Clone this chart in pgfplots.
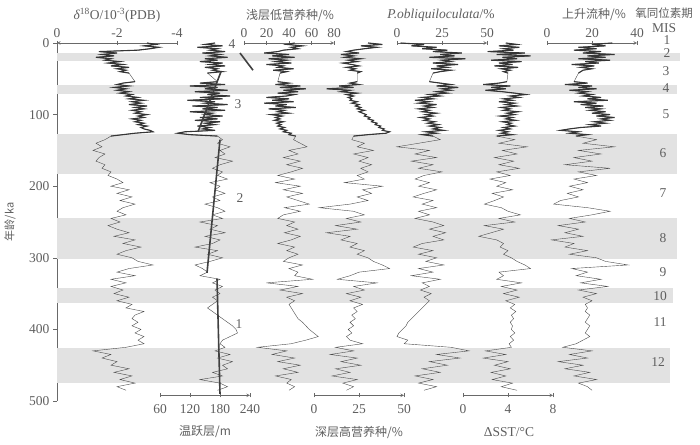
\documentclass[border=0pt]{standalone}
\usepackage{pgfplots}
\pgfplotsset{compat=1.18}
\usepackage{pgfplotstable}
\usepackage{fontspec}
\setmainfont{Liberation Serif}
\newfontfamily\cjk{Noto Sans CJK SC}
\definecolor{ln}{RGB}{75,75,75}
\definecolor{ax}{RGB}{105,105,105}
\definecolor{txt}{RGB}{95,95,95}
\definecolor{band}{RGB}{226,226,226}

\pgfplotstableread{
age D T S P O C U
0 -3.0 170 45 30 2 3.8 29
2 -3.3 150 38 38 15 4.8 20
4 -2.9 185 52 26 8 3.2 26
6 -3.4 135 42 35 22 5.0 14
8 -3.1 175 48 28 14 3.6 22
10 -2.7 160 35 22 28 4.5 12
12 -1.4 190 30 18 20 2.2 24
14 -2.0 145 18 25 36 5.5 16
16 -1.5 180 40 15 24 3.0 30
18 -1.9 160 25 22 32 6.0 18
20 -1.3 195 45 17 18 3.5 26
22 -1.8 150 22 26 38 4.8 14
24 -1.6 175 38 19 25 2.5 28
26 -2.1 140 28 24 30 5.2 17
28 -1.7 185 42 16 20 3.2 23
30 -2.2 160 20 21 34 4.4 11
32 -1.8 190 35 25 22 2.8 21
34 -2.4 150 30 18 28 4.9 15
36 -2.0 175 44 23 19 3.4 20
38 -2.3 165 26 20 30 4.2 16
40 -2.1 185 38 26 24 3.6 15
42 -2.4 155 32 24 20 4.0 14
54 -2.6 175 30 24 18 3.9 12
56 -2.2 140 40 20 24 3.2 18
58 -2.0 190 28 25 30 1.8 8
60 -2.4 120 50 14 22 4.2 20
62 -1.9 175 32 22 34 2.5 14
64 -2.3 150 55 7 25 3.8 22
66 -2.0 195 35 20 30 2.0 10
68 -2.4 130 48 15 22 3.5 18
70 -2.1 180 30 24 28 4.6 14
72 -2.5 155 45 18 18 5.6 20
74 -2.3 200 38 22 24 4.2 16
76 -2.7 140 20 19 14 5.0 24
78 -2.4 185 40 21 20 3.6 18
80 -2.9 115 25 20 10 4.4 27
82 -2.5 170 44 24 18 3.2 12
84 -2.8 150 18 21 12 4.6 22
86 -2.4 195 38 25 22 3.8 15
88 -3.0 125 28 23 15 4.8 25
90 -2.6 175 46 26 20 3.4 17
92 -2.9 145 22 24 12 4.2 24
94 -2.5 190 36 28 18 3.6 19
96 -2.8 120 30 25 14 4.9 26
98 -2.6 165 40 27 22 3.9 20
100 -3.0 150 24 29 16 4.6 28
102 -2.7 185 34 28 20 3.3 22
104 -2.9 140 28 31 13 4.4 30
106 -2.5 175 32 30 18 3.8 24
108 -2.8 130 27 33 15 4.7 28
110 -2.6 180 35 32 21 3.5 21
112 -2.9 150 29 35 17 4.3 26
114 -2.7 170 33 34 23 3.9 19
116 -3.0 135 30 37 18 4.6 24
118 -2.8 160 36 36 24 3.6 15
120 -2.9 145 32 39 20 4.2 10
122 -3.1 170 38 38 26 3.2 6
124 -3.2 110 35 42 16 4.0 14
126 -2.6 95 42 40 22 3.4 10
128 -2.2 120 40 30 14 4.4 18
130 -1.8 175 46 22 20 3.0 13
135 -1.6 185 44 21 24 4.6 22
140 -1.3 175 50 28 12 3.2 16
145 -1.5 200 56 24 0 5.7 30
150 -1.2 180 40 33 18 3.5 14
155 -1.6 190 48 22 10 4.8 24
160 -1.4 170 35 30 22 2.8 12
165 -1.3 205 50 25 8 4.5 20
170 -1.6 180 38 32 20 3.2 8
175 -1.5 165 52 26 12 5.0 28
180 -1.8 185 42 30 25 3.0 14
185 -1.7 175 30 24 15 4.2 22
190 -2.0 195 45 28 10 2.4 12
195 -2.2 160 28 17 18 3.8 18
200 -1.8 180 50 38 12 3.0 10
205 -2.4 170 35 27 22 4.4 16
210 -2.0 190 52 32 15 2.6 9
215 -2.5 165 38 24 9 3.6 14
220 -2.1 180 48 30 20 2.8 6
225 -2.6 150 58 20 14 1.9 3
230 -2.2 175 36 3 22 3.4 18
235 -2.0 190 50 22 12 4.0 28
240 -2.3 165 35 28 18 5.1 20
245 -1.8 185 30 18 10 3.2 10
250 -2.1 140 45 26 20 4.6 17
255 -1.7 175 38 12 26 1.9 5
260 -2.0 160 48 24 18 3.6 14
265 -2.4 190 36 7 27 2.5 8
270 -1.9 150 50 20 20 1.4 16
275 -2.6 180 42 15 26 3.0 2
280 -2.2 165 30 24 14 3.6 12
285 -2.8 130 45 20 9 3.3 8
290 -2.3 175 38 28 20 4.0 18
295 -2.0 155 48 24 12 3.6 10
300 -2.5 185 40 30 22 4.3 22
305 -2.7 160 35 33 16 4.8 26
310 -3.2 130 52 38 26 5.5 36
315 -2.4 145 40 42 12 6.0 11
320 -2.0 155 48 25 20 3.2 18
325 -2.6 140 45 20 8 3.6 13
330 -1.8 180 61 13 24 3.0 24
335 -2.3 165 20 35 14 5.2 15
340 -1.8 185 48 22 18 3.4 27
345 -2.2 170 32 28 13 4.8 14
350 -1.9 180 52 18 19 3.6 22
355 -2.4 165 38 26 15 5.0 16
360 -2.0 175 45 20 18 3.8 20
365 -2.5 165 40 27 16 4.6 17
370 -2.3 155 42 22 14 4.2 18
375 -2.9 165 44 24 12 4.7 17
380 -2.6 175 46 21 10 4.3 19
385 -2.5 185 48 23 8 4.5 18
390 -2.7 195 52 20 6 4.2 17
395 -2.5 205 55 22 5 4.4 19
400 -2.8 212 58 19 3 4.3 18
405 -2.6 215 62 21 1 4.6 17
410 -2.9 200 66 18 0 4.2 19
415 -2.7 185 55 20 6 4.5 16
420 -2.9 180 42 27 4 4.1 13
425 -2.3 190 12 12 30 4.3 7
430 -1.2 170 38 22 40 2.0 20
435 -1.8 200 25 9 22 3.8 10
440 -1.5 175 45 24 35 1.8 18
445 -2.0 205 30 15 18 4.0 5
450 -1.8 185 50 26 28 2.8 16
455 -2.4 195 35 12 14 4.2 8
460 -1.9 165 48 20 24 2.5 19
465 -2.5 185 28 10 10 3.8 12
470 -2.1 140 42 24 20 2.6 22
475 -2.6 180 38 16 12 4.4 14
480 -2.0 195 45 22 22 3.4 18
485 -2.3 175 40 18 15 4.8 20
}\data

\pgfplotsset{
  panel/.style={scale only axis, ymin=0, ymax=500, y dir=reverse,
    axis y line=none, clip=false, enlargelimits=false,
    axis line style={-, ax, line width=0.6pt},
    tick style={ax, line width=0.6pt},
    tick align=inside, major tick length=4pt, minor tick num=0,
    ticklabel style={font=\fontsize{13.5}{15}\selectfont, text=txt},
    /pgf/number format/assume math mode=true,
    cycle list={{ln, line width=0.6pt, mark=none}}},
  denseA/.style={ln!70!black, line width=1.1pt, mark=none, restrict y to domain=-1:43},
  denseB/.style={ln!70!black, line width=1.1pt, mark=none, restrict y to domain=53:131},
  toppanel/.style={panel, height=358pt, anchor=north west, axis x line=top},
  botpanel/.style={panel, height=352.3pt, ymax=492, anchor=north west, axis x line=bottom,
    xticklabel style={yshift=-4pt}},
}

\begin{document}
\begin{tikzpicture}
\path[use as bounding box] (0pt,0pt) rectangle (700pt,444pt);

% main axis: bands and age scale
\begin{axis}[scale only axis, width=623pt, height=358pt, at={(57pt,43pt)}, anchor=south west,
  xmin=57, xmax=680, ymin=0, ymax=500, y dir=reverse, enlargelimits=false, clip=false,
  axis x line=none, axis y line=left, axis line style={-, ax, line width=0.6pt},
  tick style={ax, line width=0.6pt}, ytick={0,100,...,500}, tick align=outside,
  major tick length=4pt,
  yticklabel style={font=\fontsize{13.5}{15}\selectfont, text=txt},
  /pgf/number format/assume math mode=true]
\addplot[fill=band, draw=none] coordinates {(57,14) (680,14) (680,25) (57,25)} --cycle;
\addplot[fill=band, draw=none] coordinates {(57,59) (677,59) (677,71) (57,71)} --cycle;
\addplot[fill=band, draw=none] coordinates {(57,127) (677,127) (677,183) (57,183)} --cycle;
\addplot[fill=band, draw=none] coordinates {(57,244) (677,244) (677,301) (57,301)} --cycle;
\addplot[fill=band, draw=none] coordinates {(57,342) (673,342) (673,363) (57,363)} --cycle;
\addplot[fill=band, draw=none] coordinates {(57,426) (670,426) (670,475) (57,475)} --cycle;
\end{axis}

% delta 18O
\begin{axis}[toppanel, at={(57pt,401pt)}, width=120pt, xmin=-4, xmax=0, x dir=reverse,
  xtick={0,-2,-4}, xticklabels={0,-2,-4}]
\addplot table[x=D, y=age] {\data};
\addplot[denseA] table[x=D, y=age] {\data};
\addplot[denseB] table[x=D, y=age] {\data};
\end{axis}

% thermocline
\begin{axis}[botpanel, at={(160pt,401pt)}, width=90pt, xmin=60, xmax=240, xtick={60,120,180,240}]
\addplot table[x=T, y=age] {\data};
\addplot[denseA] table[x=T, y=age] {\data};
\addplot[denseB] table[x=T, y=age] {\data};
\addplot[line width=1.6pt, color=black!75, mark=none] coordinates {(220,14) (246,38)};
\addplot[line width=1.6pt, color=black!75, mark=none] coordinates {(136,124) (182,40)};
\addplot[line width=1.6pt, color=black!75, mark=none] coordinates {(180,135) (154,321)};
\addplot[line width=1.6pt, color=black!75, mark=none] coordinates {(174,329) (180,490)};
\end{axis}

% shallow oligotrophic
\begin{axis}[toppanel, at={(244pt,401pt)}, width=90pt, xmin=0, xmax=80, xtick={0,20,40,60,80}]
\addplot table[x=S, y=age] {\data};
\addplot[denseA] table[x=S, y=age] {\data};
\addplot[denseB] table[x=S, y=age] {\data};
\end{axis}

% deep eutrophic
\begin{axis}[botpanel, at={(314pt,401pt)}, width=90pt, xmin=0, xmax=50, xtick={0,25,50}]
\addplot table[x=P, y=age] {\data};
\addplot[denseA] table[x=P, y=age] {\data};
\addplot[denseB] table[x=P, y=age] {\data};
\end{axis}

% P. obliquiloculata
\begin{axis}[toppanel, at={(397pt,401pt)}, width=90pt, xmin=0, xmax=50, xtick={0,25,50}]
\addplot table[x=O, y=age] {\data};
\addplot[denseA] table[x=O, y=age] {\data};
\addplot[denseB] table[x=O, y=age] {\data};
\end{axis}

% Delta SST
\begin{axis}[botpanel, at={(463pt,401pt)}, width=90pt, xmin=0, xmax=8, xtick={0,4,8}]
\addplot table[x=C, y=age] {\data};
\addplot[denseA] table[x=C, y=age] {\data};
\addplot[denseB] table[x=C, y=age] {\data};
\end{axis}

% upwelling
\begin{axis}[toppanel, at={(547pt,401pt)}, width=90pt, xmin=0, xmax=40, xtick={0,20,40}]
\addplot table[x=U, y=age] {\data};
\addplot[denseA] table[x=U, y=age] {\data};
\addplot[denseB] table[x=U, y=age] {\data};
\end{axis}

% labels
\begin{scope}[every node/.style={text=txt, inner sep=0pt}]
\node[font=\fontsize{13.5}{15}\selectfont] at (117pt,429pt) {\itshape δ\upshape\textsuperscript{18}O/10\textsuperscript{-3}(PDB)};
\node[font=\cjk\fontsize{12}{14}\selectfont] at (290pt,429pt) {浅层低营养种/\%};
\node[font=\fontsize{13.5}{15}\selectfont] at (441pt,429pt) {\textit{P.obliquiloculata}/\%};
\node[font=\cjk\fontsize{12}{14}\selectfont] at (594pt,429pt) {上升流种/\%};
\node[font=\cjk\fontsize{11.5}{14}\selectfont] at (664pt,431pt) {氧同位素期};
\node[font=\fontsize{13.5}{15}\selectfont] at (664pt,416pt) {MIS};
\node[font=\cjk\fontsize{12}{14}\selectfont] at (205pt,12pt) {温跃层/m};
\node[font=\cjk\fontsize{12}{14}\selectfont] at (359pt,12pt) {深层高营养种/\%};
\node[font=\fontsize{13.5}{15}\selectfont] at (509pt,12pt) {ΔSST/°C};
\node[font=\cjk\fontsize{11}{13}\selectfont, rotate=90] at (10pt,222pt) {年龄/ka};
\foreach \t/\x/\y in {1/667/404, 2/667/391, 3/666/373, 4/666/356, 5/666/330, 6/663/291, 7/663/251, 8/663/206, 9/663/172, 10/660/148, 11/660/122, 12/658/82}
  \node[font=\fontsize{13.5}{15}\selectfont] at (\x pt,\y pt) {\t};
\foreach \t/\x/\y in {4/232/400, 3/238/340, 2/240/246, 1/239/120}
  \node[font=\fontsize{13.5}{15}\selectfont] at (\x pt,\y pt) {\t};
\end{scope}
\end{tikzpicture}
\end{document}
